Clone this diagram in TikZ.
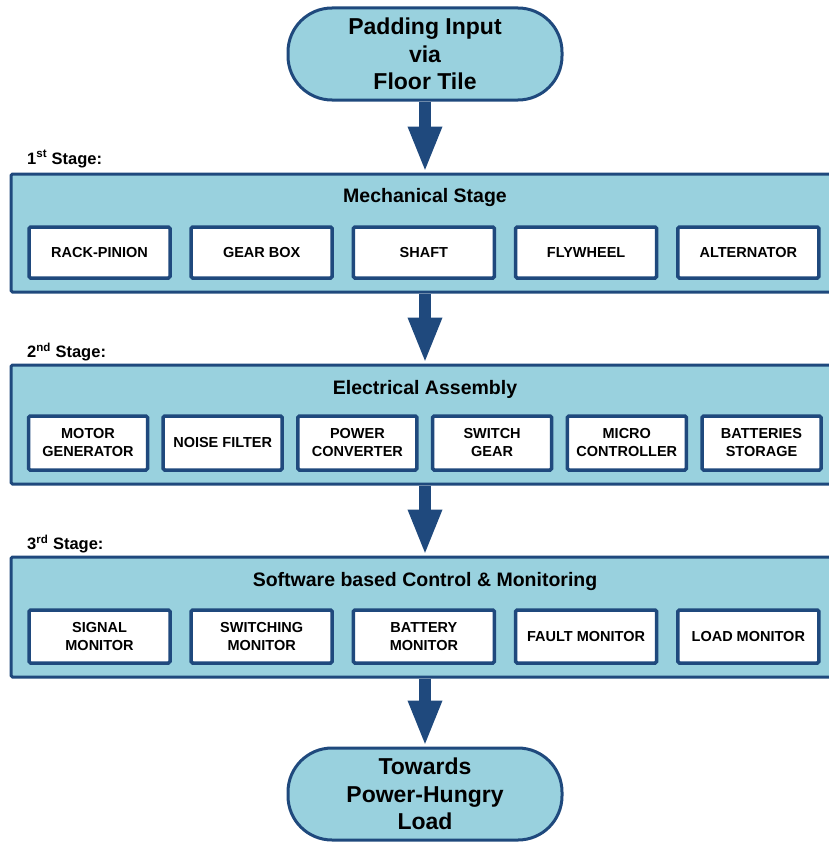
\documentclass[tikz,border=0pt]{standalone}
\usepackage{fontspec}
\setmainfont{Liberation Sans}
\usetikzlibrary{arrows.meta,positioning}
\definecolor{stagefill}{RGB}{153,209,222}
\definecolor{stageline}{RGB}{31,73,125}

\begin{document}
\begin{tikzpicture}[x=1pt, y=-1pt,
        terminal/.style={draw=stageline, line width=3pt, fill=stagefill, rounded corners=44pt,
            minimum width=274pt, minimum height=92pt, align=center,
            font=\fontsize{23}{27.5}\selectfont\bfseries},
        stage/.style={draw=stageline, line width=3pt, fill=stagefill, rounded corners=1.5pt},
        stagetitle/.style={font=\fontsize{19.5}{23}\selectfont\bfseries},
        stagelabel/.style={anchor=west, inner sep=0pt, font=\fontsize{16.5}{20}\selectfont\bfseries},
        part/.style={draw=stageline, line width=3.5pt, fill=white, rounded corners=1.5pt,
            align=center, inner sep=0pt, font=\fontsize{14.5}{18}\selectfont\bfseries},
        flow/.style={stageline, line width=12pt, -{Triangle[width=31pt,length=46pt]}}]

        % Picture size of the reference
        \useasboundingbox (0,0) rectangle (829,843);

        % Spacing of the boxes inside the stages
        \pgfmathsetmacro{\fivestep}{162.2}
        \pgfmathsetmacro{\sixstep}{134.7}

        % Input and output
        \node[terminal] (input) at (425,54) {Padding Input\\via\\Floor Tile};
        \node[terminal] (load) at (425,794) {Towards\\Power-Hungry\\Load};

        % 1st stage
        \node[stagelabel] (label1) at (27,159) {1\textsuperscript{st} Stage:};
        \node[stage, minimum width=822pt, minimum height=118pt] (mech) at (422,233) {};
        \node[stagetitle] (mechtitle) at (425,197) {Mechanical Stage};
        \foreach \name/\txt [count=\i] in {rack/RACK-PINION, gear/GEAR BOX, shaft/SHAFT,
                fly/FLYWHEEL, alt/ALTERNATOR}
            \node[part, minimum width=141pt, minimum height=51pt] (\name)
                at ({99.5+(\i-1)*\fivestep},252.5) {\txt};

        % 2nd stage
        \node[stagelabel] (label2) at (27,352) {2\textsuperscript{nd} Stage:};
        \node[stage, minimum width=822pt, minimum height=119pt] (elec) at (422,424.5) {};
        \node[stagetitle] (electitle) at (425,389) {Electrical Assembly};
        \foreach \name/\txt [count=\i] in {motor/{MOTOR\\GENERATOR}, noise/NOISE FILTER,
                conv/{POWER\\CONVERTER}, switch/{SWITCH\\GEAR}, micro/{MICRO\\CONTROLLER},
                batt/{BATTERIES\\STORAGE}}
            \node[part, minimum width=119pt, minimum height=54pt] (\name)
                at ({88+(\i-1)*\sixstep},443) {\txt};

        % 3rd stage
        \node[stagelabel] (label3) at (27,544) {3\textsuperscript{rd} Stage:};
        \node[stage, minimum width=822pt, minimum height=120pt] (soft) at (422,617) {};
        \node[stagetitle] (softtitle) at (425,581) {Software based Control \& Monitoring};
        \foreach \name/\txt [count=\i] in {signal/{SIGNAL\\MONITOR}, swmon/{SWITCHING\\MONITOR},
                battmon/{BATTERY\\MONITOR}, fault/FAULT MONITOR, loadmon/LOAD MONITOR}
            \node[part, minimum width=141pt, minimum height=53pt] (\name)
                at ({99.5+(\i-1)*\fivestep},636.5) {\txt};

        % Flow arrows
        \draw[flow] (input.south) -- (input.south |- mech.north);
        \draw[flow] (input.south |- mech.south) -- (input.south |- elec.north);
        \draw[flow] (input.south |- elec.south) -- (input.south |- soft.north);
        \draw[flow] (input.south |- soft.south) -- (load.north);

    \end{tikzpicture}
\end{document}
